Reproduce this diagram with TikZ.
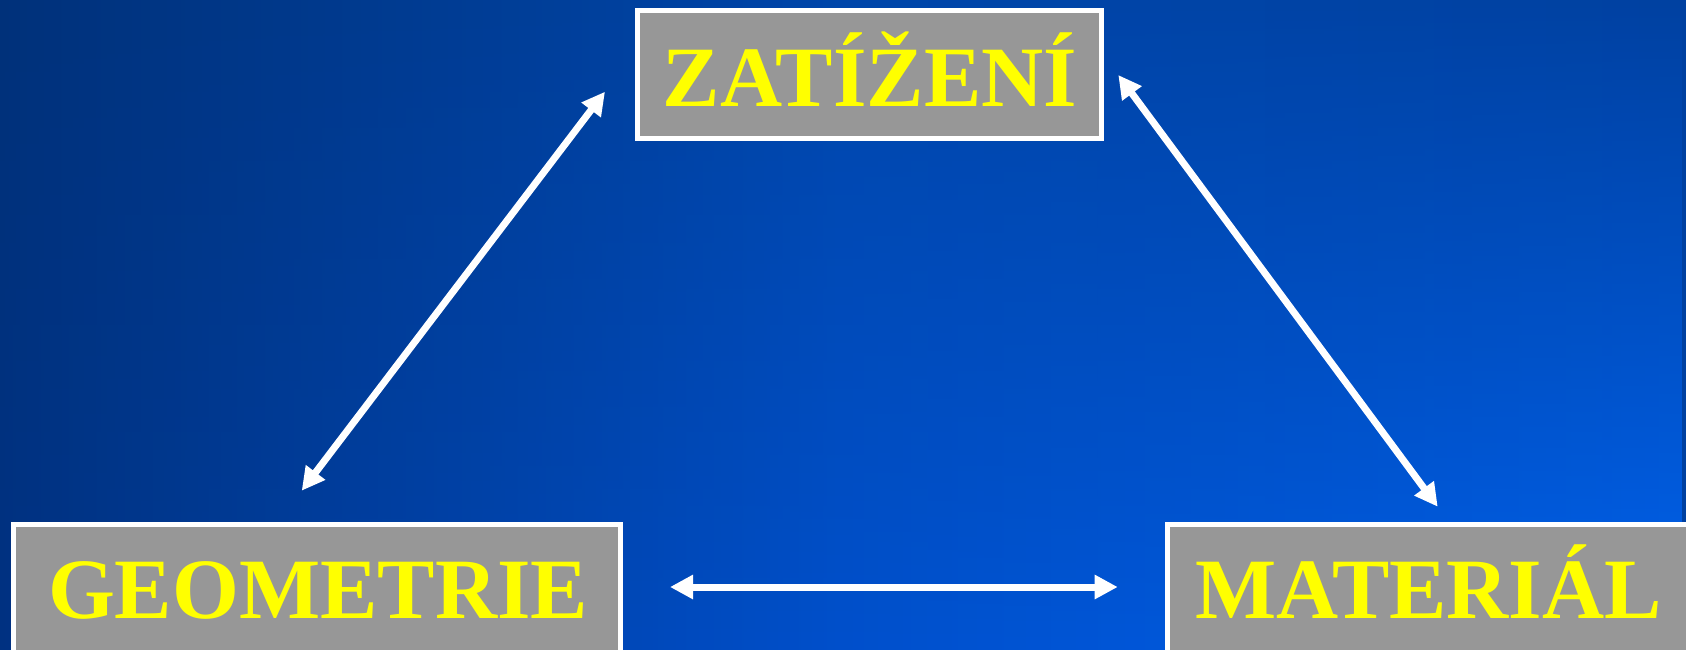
\documentclass[tikz,border=0pt]{standalone}
\usepackage{fontspec}
\setmainfont{Liberation Serif}
\usetikzlibrary{arrows.meta,fadings}
\definecolor{bgTa}{HTML}{00317A}
\definecolor{bgTb}{HTML}{0046AA}
\definecolor{bgTc}{HTML}{0041A1}
\definecolor{bgBa}{HTML}{003282}
\definecolor{bgBb}{HTML}{0050CC}
\definecolor{bgBc}{HTML}{0062EE}
\definecolor{boxgray}{HTML}{979797}
\definecolor{txtyellow}{HTML}{FFFF00}
\tikzfading[name=fadeup, top color=transparent!100, bottom color=transparent!0]
\tikzset{
  box/.style={draw=white, line width=5pt, fill=boxgray, inner sep=0pt},
  boxtext/.style={text=txtyellow, font=\fontsize{86}{86}\selectfont\bfseries, inner sep=0pt, anchor=base},
  link/.style={draw=white, line width=7pt, >={Triangle[length=23pt,width=23pt]}, <->}
}
\begin{document}
\begin{tikzpicture}[x=1pt,y=-1pt]
\useasboundingbox (0,0) rectangle (1686,649);
\clip (0,0) rectangle (1686,649);
\shade[left color=bgTa, right color=bgTc, middle color=bgTb] (0,0) rectangle (1686,649);
\shade[left color=bgBa, right color=bgBc, middle color=bgBb, path fading=fadeup] (0,0) rectangle (1686,649);

\node[box, minimum width=464pt, minimum height=128pt] (zat) at (869.5,74.5) {};
\node[box, minimum width=607pt, minimum height=175.5pt] (geo) at (317,612.25) {};
\node[box, minimum width=584pt, minimum height=175.5pt] (mat) at (1459,612.25) {};

\node[boxtext] (zattext) at (870,106) {ZATÍŽENÍ};
\node[boxtext] (geotext) at (318,618) {GEOMETRIE};
\node[boxtext] (mattext) at (1428.5,618) {MATERIÁL};

\coordinate (l1) at (301.7,490.7);
\coordinate (l2) at (605,91.7);
\coordinate (r1) at (1118.3,75);
\coordinate (r2) at (1437.7,506.7);
\coordinate (h1) at (670,587);
\coordinate (h2) at (1117.7,587);
\draw[link] (l1) -- (l2);
\draw[link] (r1) -- (r2);
\draw[link] (h1) -- (h2);
\end{tikzpicture}
\end{document}
